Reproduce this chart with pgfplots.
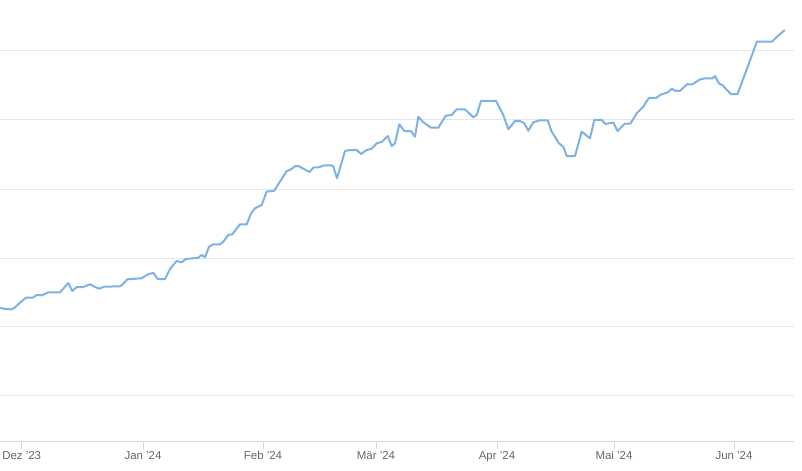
\documentclass[border=0pt]{standalone}
\usepackage{pgfplots}
\pgfplotsset{compat=1.18}
\usepackage{fontspec}
\setmainfont{Liberation Sans}
\definecolor{hcline}{HTML}{7CB2E4}
\definecolor{hcgrid}{HTML}{E6E6E6}
\definecolor{hcaxis}{HTML}{CCD6EB}
\definecolor{hclabel}{HTML}{666666}
\begin{document}
\begin{tikzpicture}
\path[use as bounding box] (0,-30bp) rectangle (802bp,441bp);
\begin{axis}[
  at={(0,0)}, anchor=south west,
  scale only axis,
  width=794bp, height=441bp,
  xmin=0, xmax=794,
  ymin=0, ymax=441,
  y dir=reverse,
  axis x line*=bottom,
  axis y line*=left,
  x axis line style={draw=hcaxis, line width=1bp, -},
  y axis line style={draw=none},
  xtick={21.7,143,263,376,497,614,734},
  xticklabels={Dez '23,Jan '24,Feb '24,Mär '24,Apr '24,Mai '24,Jun '24},
  tick align=outside,
  x tick style={draw=hcaxis, line width=1bp},
  major tick length=8bp,
  xticklabel style={font=\fontsize{11.5}{13}\selectfont, text=hclabel, yshift=1bp},
  ytick={51,120,189,258,326,395},
  yticklabels={},
  y tick style={draw=none},
  ymajorgrids,
  major grid style={draw=hcgrid, line width=1bp},
  clip=false,
]
\addplot[color=hcline, line width=2bp, line join=round, mark=none] coordinates {
(0,307.7) (3.3,308.7) (10,309.3) (14,308.3) (20,302.7) (26,297.7) (32.7,297.7)
(36.7,295) (41.7,295.3) (48.3,292.3) (60,292.3) (68.3,283) (72.3,291) (76.7,287)
(83.3,287) (90,284.3) (95,287) (99.3,288.7) (104,286.7) (120,286.3) (122.7,284.3)
(127.3,279.3) (141.7,278.3) (146.7,275) (153.3,272.7) (157.7,279) (165,279)
(170,269) (176.7,261) (181.7,262.3) (185.7,259) (193.3,258.3) (198.3,257.7)
(201.7,255) (205,257.3) (209,246.7) (213.3,244.3) (220,244.3) (223.3,241.7)
(228.3,235) (232.3,234.3) (240,224.3) (246.7,224.3) (251,213.3) (255,208.3)
(261.7,205) (266.7,191.5) (274,191) (286.7,171) (290,170) (295.5,166) (298.3,166)
(309.5,172) (313.5,167.5) (318.3,167.3) (325,165.3) (332,165.5) (333.3,166.5)
(337,178.3) (345,151) (350,150) (356.7,150) (361,154) (366.7,150) (371.7,148.7)
(376.7,143.3) (381.7,142) (387.7,136) (391.7,146) (395,143.3) (399.3,124.3)
(404.3,131) (411,131) (415,136.7) (418.3,116.7) (423.3,122.3) (431,127.7)
(438.3,127.7) (445.7,115.7) (451.7,115) (456.7,109.3) (465,109.3) (473.3,117.3)
(476.7,115) (481,101) (496,101) (503.3,115) (508.3,129.3) (515,121) (520,121)
(524.3,123.3) (528.3,130.7) (533.3,122.3) (540,120.3) (547.7,120.3) (551.7,131.7)
(559,143.3) (563.3,146.7) (566.7,156) (575,156) (581.7,131.7) (590,138.3)
(594.3,120) (601.7,120) (605.5,124) (613.3,122.5) (617.5,131) (625,123.5)
(630.5,123.5) (636.7,113.3) (643.3,106.7) (645.5,103) (649,98) (656,98)
(661,94.5) (667.5,92.5) (671.7,88.8) (675.5,90.8) (680,90.8) (687.3,84.2)
(692,84.5) (699.5,79.7) (705,78.3) (712.5,78.3) (715,76) (718.8,83.3)
(722.5,85.3) (731,94.2) (737.5,94.2) (757,41.5) (772,41.7) (776.7,37) (784.7,30)
};
\end{axis}
\end{tikzpicture}
\end{document}
